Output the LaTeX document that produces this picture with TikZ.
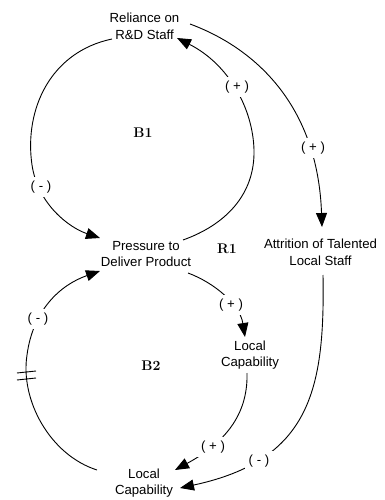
\documentclass[tikz,border=0pt]{standalone}
\usepackage{fontspec}
\setsansfont{Liberation Sans}
\usetikzlibrary{arrows.meta}
\begin{document}
\begin{tikzpicture}[x=1pt,y=-1pt,
  var/.style={font=\sffamily\fontsize{13.2}{16.5}\selectfont, align=center, inner sep=0pt},
  lbl/.style={font=\sffamily\fontsize{13.2}{16}\selectfont, fill=white, inner sep=4pt},
  loopname/.style={font=\rmfamily\bfseries\fontsize{14}{16}\selectfont, inner sep=0pt},
  link/.style={line width=0.9pt, -{Triangle[length=14pt,width=11pt]}},
  plain/.style={line width=0.9pt},
]
\useasboundingbox (0,0) rectangle (385,500);
\node[var] (rel)  at (144.5,26.5) {Reliance on\\R\&D Staff};
\node[var] (pres) at (146,254)    {Pressure to\\Deliver Product};
\node[var] (attr) at (320.5,252.3) {Attrition of Talented\\Local Staff};
\node[var] (lcm)  at (250,355)    {Local\\Capability};
\node[var] (lcb)  at (144,483)    {Local\\Capability};
\node[loopname] (b1) at (143,133) {B1};
\node[loopname] (r1) at (227,249) {R1};
\node[loopname] (b2) at (151,366) {B2};

% B1 left: Reliance -> Pressure
\draw[link] ([shift={(-32.5,12.5)}]rel.center) .. controls (50,52) and (24,110) .. (32,165)
  .. controls (38,205) and (70,228) .. ([shift={(-46,-16)}]pres.center);
% B1 right: Pressure -> Reliance
\draw[link] ([shift={(37,-14)}]pres.center) .. controls (225,225) and (255,195) .. (254,150)
  .. controls (253,110) and (230,65) .. ([shift={(32.5,11.5)}]rel.center);
% Reliance -> Attrition
\draw[link] ([shift={(45.5,-2.5)}]rel.center) .. controls (260,50) and (318,110) .. ([shift={(1.5,-25.3)}]attr.center);
% Pressure -> Local Capability (middle)
\draw[link] ([shift={(42,19)}]pres.center) .. controls (215,283) and (240,305) .. ([shift={(-5,-18)}]lcm.center);
% Local Capability (middle) -> Local Capability (bottom)
\draw[link] ([shift={(-3,18)}]lcm.center) .. controls (248,410) and (230,440) .. ([shift={(31,-13)}]lcb.center);
% Attrition -> Local Capability (bottom)
\draw[link] ([shift={(2.5,22.7)}]attr.center) .. controls (325,390) and (310,460) .. ([shift={(36,5)}]lcb.center);
% B2 left: Local Capability (bottom) -> Pressure
\draw[link] ([shift={(-47,-13)}]lcb.center) .. controls (50,455) and (20,400) .. (27,355)
  .. controls (33,310) and (60,285) .. ([shift={(-46,17)}]pres.center);
% delay mark
\draw[plain] (17,373) -- (36,371);
\draw[plain] (17,380) -- (36,378);

% polarity labels
\node[lbl] (p1) at (41,187)    {( - )};
\node[lbl] (p2) at (237,87)    {( + )};
\node[lbl] (p3) at (313,148)   {( + )};
\node[lbl] (p4) at (231,305)   {( + )};
\node[lbl] (p5) at (213,447)   {( + )};
\node[lbl] (p6) at (259,461)   {( - )};
\node[lbl] (p7) at (38,319)    {( - )};
\end{tikzpicture}
\end{document}
